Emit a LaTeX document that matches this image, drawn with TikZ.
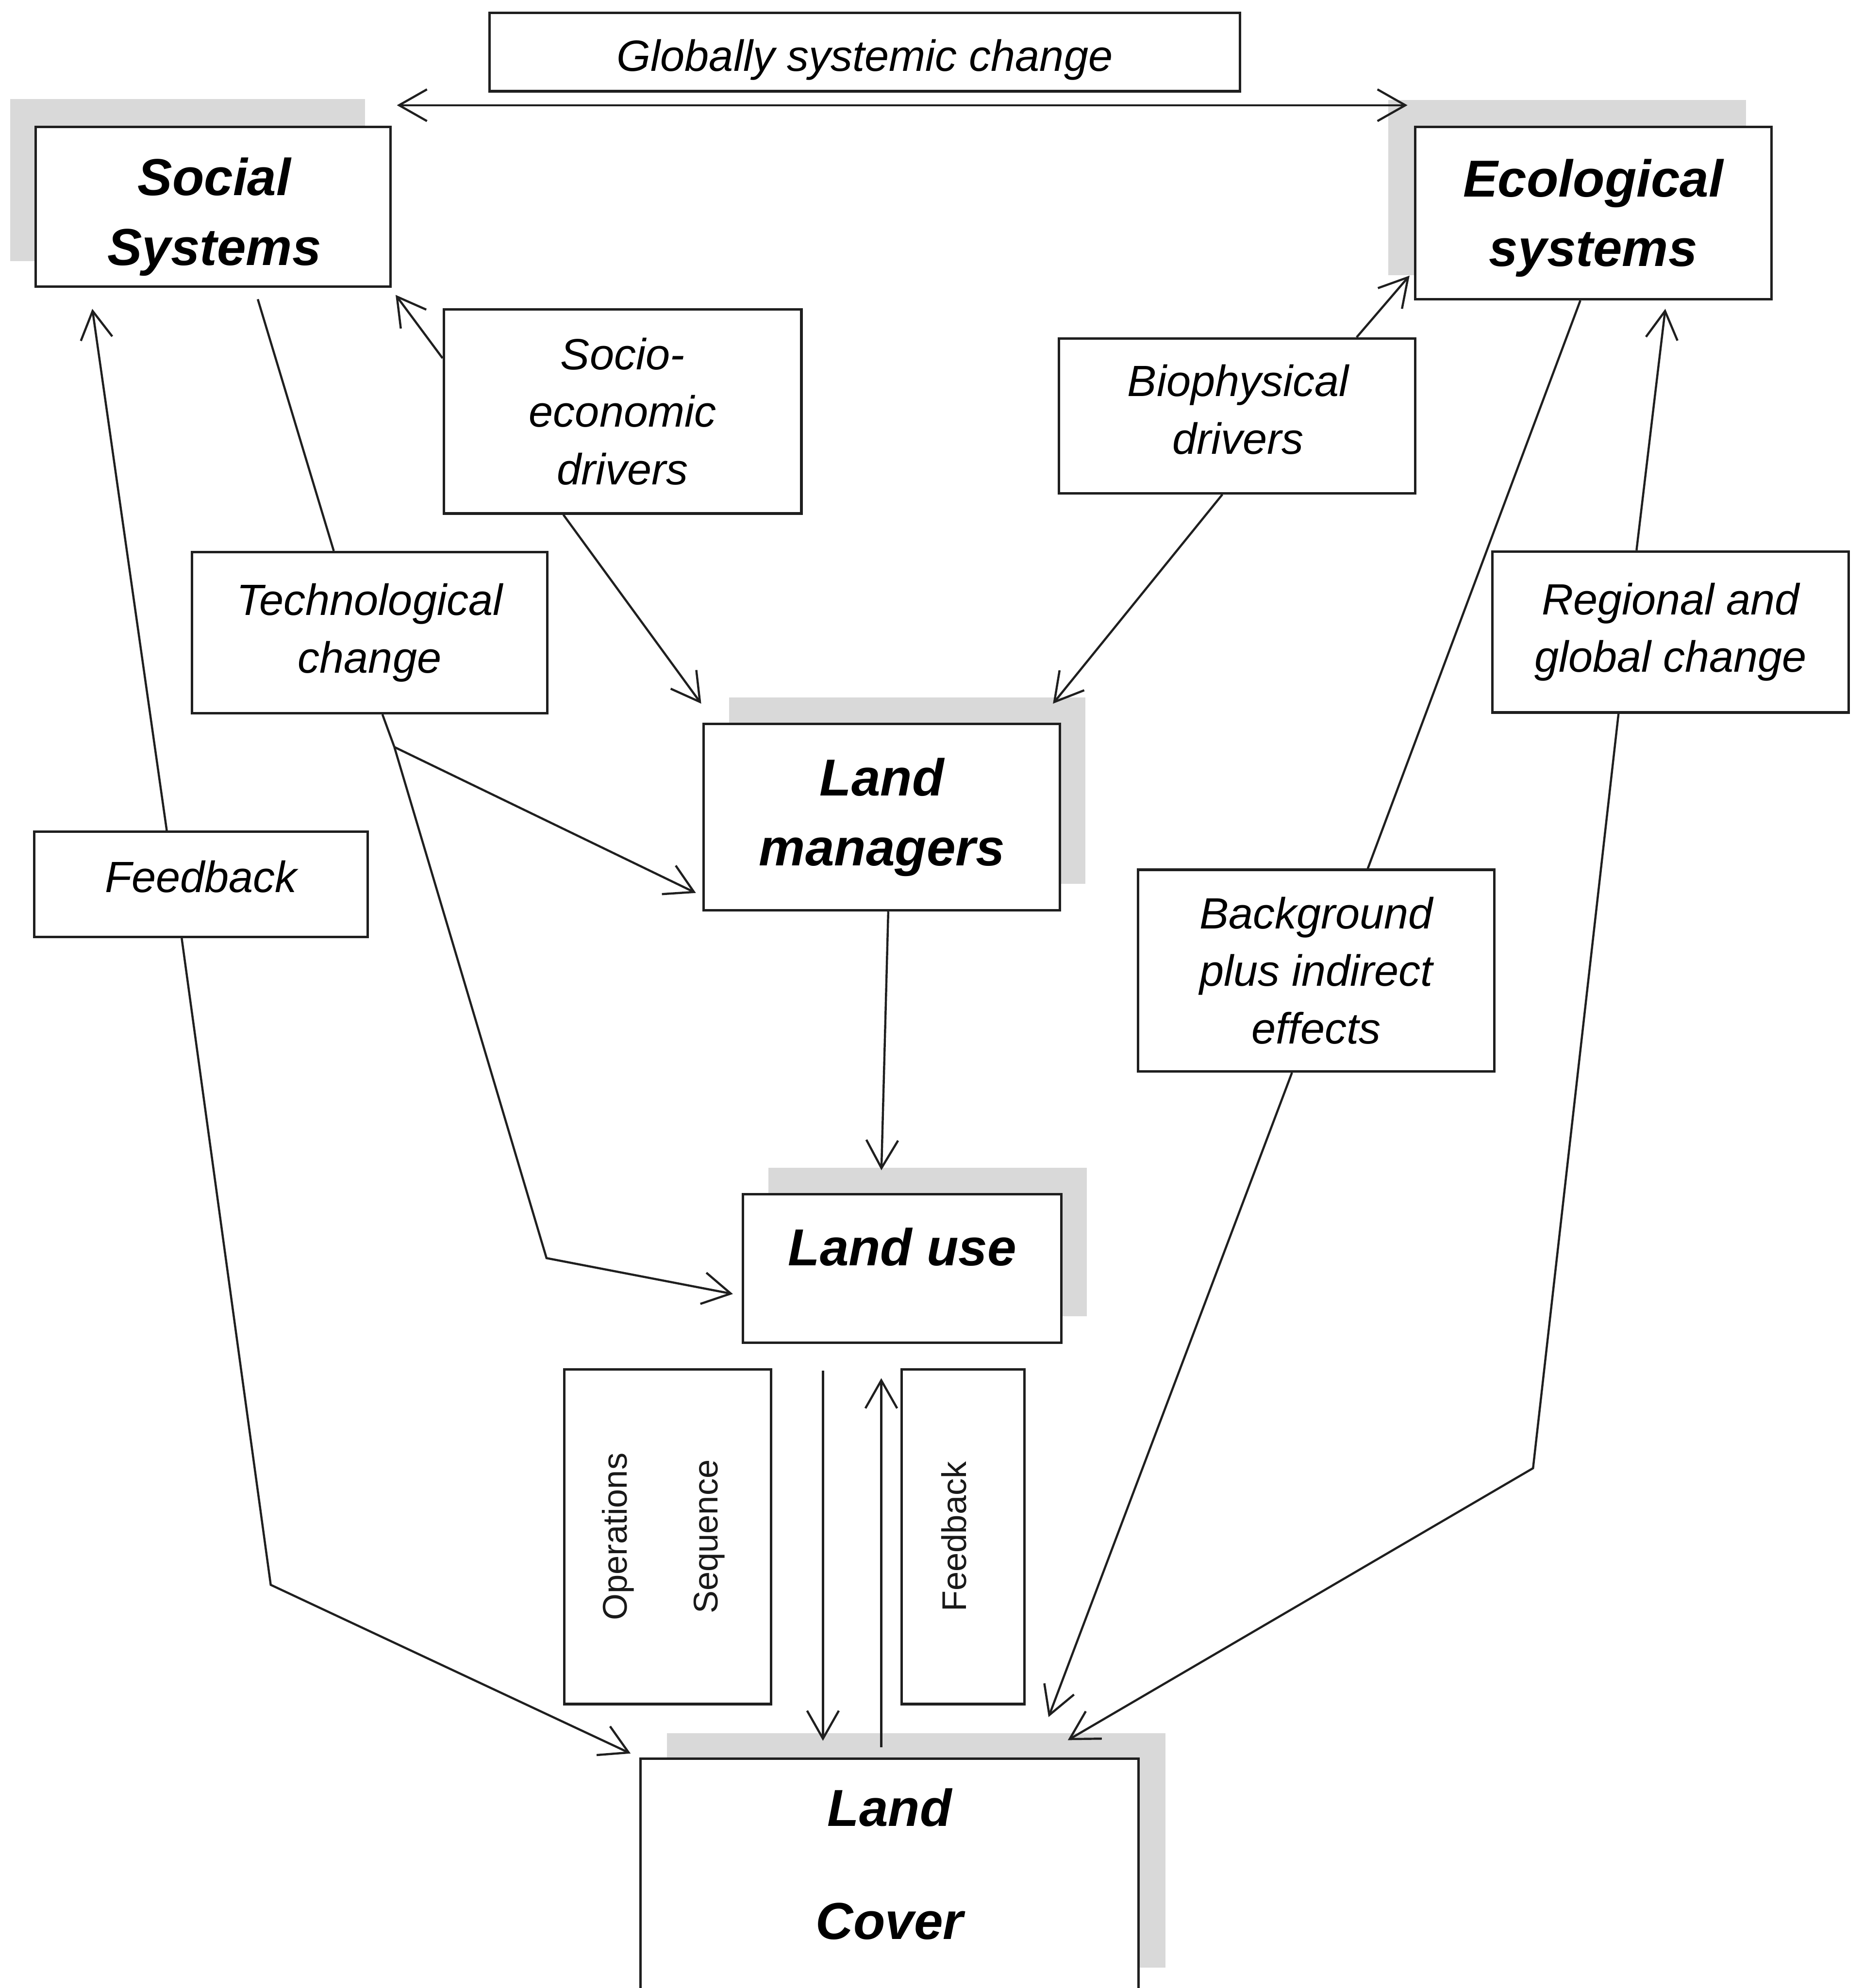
\documentclass[tikz,border=0pt]{standalone}
\usepackage{fontspec}
\setmainfont{Liberation Sans}
\usetikzlibrary{arrows.meta,calc,backgrounds}

\begin{document}
\begin{tikzpicture}[x=1pt,y=-1pt,
  line join=miter,
  box/.style={draw=black!88, line width=2pt, fill=white, inner sep=0pt, align=center, text=black},
  mainbox/.style={box, font=\fontsize{41}{55}\selectfont\bfseries\itshape},
  maintext/.style={inner sep=0pt, align=center, font=\fontsize{41}{55}\selectfont\bfseries\itshape},
  lbl/.style={box, font=\fontsize{34.5}{45.5}\selectfont\itshape},
  lbltext/.style={inner sep=0pt, align=center, font=\fontsize{34.5}{45.5}\selectfont\itshape},
  vtext/.style={font=\fontsize{27}{32}\selectfont, rotate=90, inner sep=0pt, text=black!90},
  greyback/.style={fill=black!15, draw=none},
  plainline/.style={draw=black!88, line width=1.7pt},
  arrowline/.style={plainline, -{Straight Barb[length=22pt,width=25pt]}},
  dblarrow/.style={plainline, {Straight Barb[length=22pt,width=25pt]}-{Straight Barb[length=22pt,width=25pt]}}
]
\path[use as bounding box] (0,0) rectangle (1469,1568);

% --- boxes ---------------------------------------------------------
\node[lbl, minimum width=592pt, minimum height=62pt] (glob) at (682,41)
  {\raisebox{-6pt}[\height][\depth]{Globally systemic change}};
\node[box, minimum width=280pt, minimum height=126pt] (social) at (168,163) {};
\node[maintext] (socialt) at ($(social.center)+(1,8)$) {Social\\Systems};
\node[box, minimum width=281pt, minimum height=136pt] (eco) at (1256.5,168) {};
\node[maintext] (ecot) at ($(eco.center)+(0,4)$) {Ecological\\systems};
\node[lbl, minimum width=282pt, minimum height=161pt] (socio) at (491,324.5) {Socio-\\economic\\drivers};
\node[box, minimum width=281pt, minimum height=122pt] (bio) at (975.5,328) {};
\node[lbltext] (biot) at ($(bio.center)+(1,-5)$) {Biophysical\\drivers};
\node[lbl, minimum width=280pt, minimum height=127pt] (tech) at (291.5,499) {Technological\\change};
\node[lbl, minimum width=281pt, minimum height=127pt] (reg) at (1317.5,498.5) {Regional and\\global change};
\node[mainbox, minimum width=281pt, minimum height=147pt] (lm) at (695.5,644.5) {Land\\managers};
\node[lbl, minimum width=263pt, minimum height=83pt] (fbl) at (158.5,697.5)
  {\raisebox{6pt}[\height][\depth]{Feedback}};
\node[lbl, minimum width=281pt, minimum height=159pt] (bg) at (1038,765.5) {Background\\plus indirect\\effects};
\node[mainbox, minimum width=251pt, minimum height=117pt] (lu) at (711.5,1000.5)
  {\raisebox{17pt}[\height][\depth]{Land use}};
\node[box, minimum width=163pt, minimum height=264pt] (ops) at (526.5,1212) {};
\node[box, minimum width=97pt, minimum height=264pt] (fbv) at (759.5,1212) {};
\node[mainbox, minimum width=393pt, minimum height=183pt, text depth=17pt] (lc) at (701.5,1478.5) {Land\\[34pt]Cover};

% rotated labels inside the two narrow boxes
\node[vtext] (opsa) at ($(ops.center)+(-39,0)$) {Operations};
\node[vtext] (opsb) at ($(ops.center)+(33,0)$) {Sequence};
\node[vtext] (fbvt) at ($(fbv.center)+(-7,0)$) {Feedback};

% --- page and drop shadows -----------------------------------------
\begin{scope}[on background layer]
  \fill[white] (0,0) rectangle (1469,1568);
  \fill[greyback] ($(social.south west)+(-19,-21)$) rectangle ($(social.north east)+(-21,-21)$);
  \fill[greyback] ($(eco.south west)+(-20,-20)$) rectangle ($(eco.north east)+(-21,-20)$);
  \fill[greyback] ($(lm.south west)+(21,-22)$) rectangle ($(lm.north east)+(19,-20)$);
  \fill[greyback] ($(lu.south west)+(21,-22)$) rectangle ($(lu.north east)+(19,-20)$);
  \fill[greyback] ($(lc.south west)+(22,-19)$) rectangle ($(lc.north east)+(20,-19)$);
\end{scope}

% --- connectors ------------------------------------------------------
\coordinate (gl) at (313,83);
\coordinate (gr) at (1110,83);
\draw[dblarrow] (gl) -- (gr);

% socio-economic drivers
\draw[arrowline] ($(socio.west)+(0,-42)$) -- ($(social.south east)+(3,5.6)$);
\draw[arrowline] ($(socio.south)+(-46.7,0)$) -- ($(lm.north west)+(-1,-15)$);

% biophysical drivers
\draw[arrowline] ($(bio.north)+(94.4,0)$) -- ($(eco.south west)+(-3.4,-19.6)$);
\draw[arrowline] ($(bio.south)+(-11.5,0)$) -- ($(lm.north east)+(-6.6,-15)$);

% technological change
\draw[plainline] ($(social.south)+(35.3,9)$) -- ($(tech.north)+(-28.3,0)$);
\coordinate (tj) at ($(tech.south)+(19.5,25.7)$);
\coordinate (tc) at ($(lu.west)+(-154,-8.2)$);
\draw[plainline] ($(tech.south)+(10.1,0)$) -- (tj);
\draw[arrowline] (tj) -- ($(lm.south west)+(-5.2,-14.7)$);
\draw[arrowline] (tj) -- (tc) -- ($(lu.west)+(-7,20.1)$);

% land managers to land use
\draw[arrowline] ($(lm.south)+(5,0)$) -- ($(lu.north)+(-16.4,-18)$);

% feedback on the left
\coordinate (fbk) at (213.5,1250);
\draw[arrowline] ($(fbl.north)+(-27,0)$) -- ($(social.south west)+(45.8,16.6)$);
\draw[arrowline] ($(fbl.south)+(-15.2,0)$) -- (fbk) -- ($(lc.north west)+(-6.7,-3)$);

% background plus indirect effects
\draw[plainline] ($(eco.south)+(-10.2,0)$) -- ($(bg.north)+(40.7,0)$);
\draw[arrowline] ($(bg.south)+(-19.1,0)$) -- ($(lc.north)+(125.4,-31.7)$);

% regional and global change
\coordinate (rgk) at (1209,1158);
\draw[arrowline] ($(reg.north)+(-26.9,0)$) -- ($(eco.south)+(56.8,6.6)$);
\draw[arrowline] ($(reg.south)+(-41.1,0)$) -- (rgk) -- ($(lc.north east)+(-56.9,-13.5)$);

% land use <-> land cover
\draw[arrowline] ($(lu.south)+(-62.5,21)$) -- ($(lc.north)+(-52.5,-13)$);
\draw[arrowline] ($(lc.north)+(-6.5,-8)$) -- ($(lu.south)+(-16.5,27)$);
\end{tikzpicture}
\end{document}
